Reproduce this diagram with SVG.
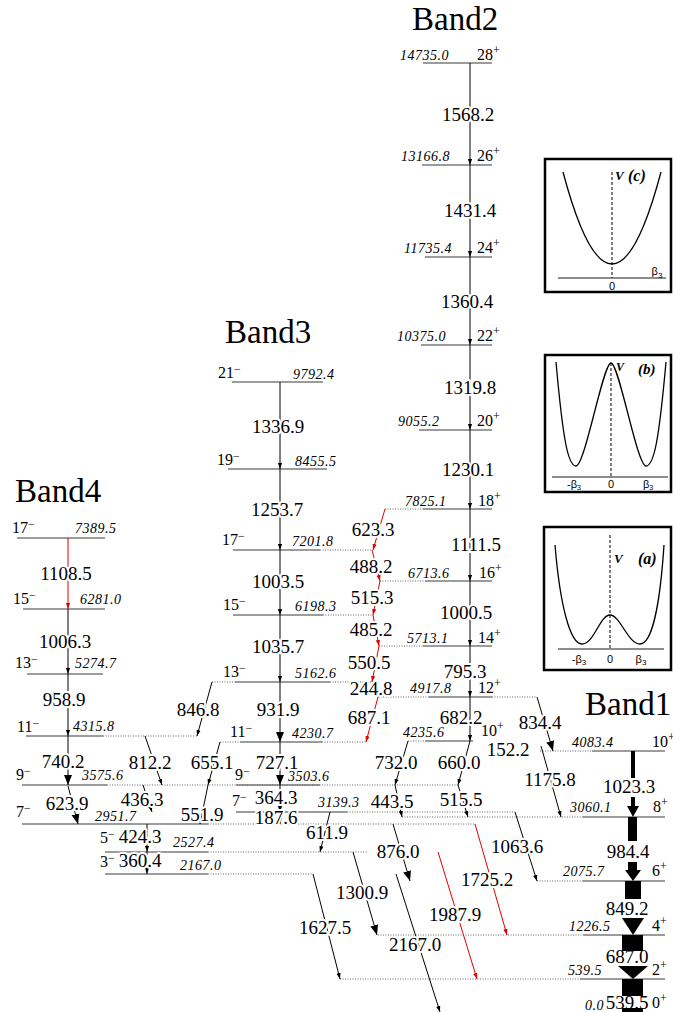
<svg xmlns="http://www.w3.org/2000/svg" width="673" height="1012" viewBox="0 0 673 1012">
<defs>
<style>
text{font-family:"Liberation Serif","Times New Roman",serif;fill:#000}
.band{font-size:33px}
.e{font-size:14px;font-style:italic;letter-spacing:0.5px}
.s{font-size:16px}
.sup{font-size:12px}
.g{font-size:19px;text-anchor:middle;stroke:#fff;stroke-width:4;paint-order:stroke;stroke-linejoin:round}
.g2{font-size:19px;text-anchor:middle}
.lv{stroke:#3a3a3a;stroke-width:1.2;fill:none}
.dt{stroke:#666;stroke-width:1;stroke-dasharray:1 1.5;fill:none}
.tr{stroke:#000;fill:none;stroke-width:1}
.red{stroke:#e00000;fill:none;stroke-width:1}
.blk{fill:#000}
.box{fill:#fff;stroke:#000;stroke-width:2.5}
.ax{stroke:#666;stroke-width:1.4}
.vd{stroke:#000;stroke-width:1;stroke-dasharray:3 2}
.cv{fill:none;stroke:#000;stroke-width:1.3}
.pl{font-family:"Liberation Sans",Arial,sans-serif;font-size:11px;text-anchor:middle;fill:#000}
.vl{font-weight:bold;font-style:italic}
</style>
<marker id="ah" viewBox="0 0 10 10" refX="10" refY="5" markerWidth="6" markerHeight="6" markerUnits="userSpaceOnUse" orient="auto"><path d="M0,1.5L10,5L0,8.5z" fill="#000"/></marker>
<marker id="ahr" viewBox="0 0 10 10" refX="10" refY="5" markerWidth="6" markerHeight="6" markerUnits="userSpaceOnUse" orient="auto"><path d="M0,1.5L10,5L0,8.5z" fill="#e00000"/></marker>
<marker id="ahb" viewBox="0 0 10 10" refX="10" refY="5" markerWidth="10" markerHeight="10" markerUnits="userSpaceOnUse" orient="auto"><path d="M0,1L10,5L0,9z" fill="#000"/></marker>
</defs>
<rect width="673" height="1012" fill="#fff"/>

<!-- band titles -->
<g id="titles">
<text class="band" x="412" y="30">Band2</text>
<text class="band" x="225" y="343">Band3</text>
<text class="band" x="15" y="502">Band4</text>
<text class="band" x="585" y="715">Band1</text>
</g>

<!-- levels: Band2 -->
<g id="b2-28"><line class="lv" x1="423" y1="63" x2="492" y2="63"/><text class="e" x="400" y="60">14735.0</text><text class="s" x="477" y="60">28<tspan class="sup" dy="-6">+</tspan></text></g>
<g id="b2-26"><line class="lv" x1="422" y1="165" x2="492" y2="165"/><text class="e" x="401" y="161">13166.8</text><text class="s" x="477" y="161">26<tspan class="sup" dy="-6">+</tspan></text></g>
<g id="b2-24"><line class="lv" x1="425" y1="257" x2="492" y2="257"/><text class="e" x="404" y="253">11735.4</text><text class="s" x="477" y="253">24<tspan class="sup" dy="-6">+</tspan></text></g>
<g id="b2-22"><line class="lv" x1="421" y1="345" x2="492" y2="345"/><text class="e" x="397" y="341">10375.0</text><text class="s" x="477" y="341">22<tspan class="sup" dy="-6">+</tspan></text></g>
<g id="b2-20"><line class="lv" x1="419" y1="430" x2="492" y2="430"/><text class="e" x="398" y="426">9055.2</text><text class="s" x="477" y="426">20<tspan class="sup" dy="-6">+</tspan></text></g>
<g id="b2-18"><line class="dt" x1="385" y1="509" x2="423" y2="509"/><line class="lv" x1="423" y1="509" x2="492" y2="509"/><text class="e" x="405" y="506">7825.1</text><text class="s" x="478" y="506">18<tspan class="sup" dy="-6">+</tspan></text></g>
<g id="b2-16"><line class="dt" x1="380" y1="581" x2="425" y2="581"/><line class="lv" x1="425" y1="581" x2="492" y2="581"/><text class="e" x="408" y="578">6713.6</text><text class="s" x="479" y="578">16<tspan class="sup" dy="-6">+</tspan></text></g>
<g id="b2-14"><line class="dt" x1="379" y1="646" x2="423" y2="646"/><line class="lv" x1="423" y1="646" x2="492" y2="646"/><text class="e" x="407" y="643">5713.1</text><text class="s" x="478" y="643">14<tspan class="sup" dy="-6">+</tspan></text></g>
<g id="b2-12"><line class="dt" x1="378" y1="697" x2="429" y2="697"/><line class="lv" x1="429" y1="697" x2="492" y2="697"/><line class="dt" x1="492" y1="697" x2="537" y2="697"/><text class="e" x="410" y="693">4917.8</text><text class="s" x="478" y="693">12<tspan class="sup" dy="-6">+</tspan></text></g>
<g id="b2-10"><line class="dt" x1="408" y1="741" x2="425" y2="741"/><line class="lv" x1="425" y1="741" x2="473" y2="741"/><text class="e" x="403" y="737">4235.6</text><text class="s" x="481" y="736">10<tspan class="sup" dy="-6">+</tspan></text></g>

<!-- levels: Band3 -->
<g id="b3-21"><line class="lv" x1="232" y1="382" x2="323" y2="382"/><text class="s" x="218" y="378">21<tspan class="sup" dy="-5">−</tspan></text><text class="e" x="293" y="379">9792.4</text></g>
<g id="b3-19"><line class="lv" x1="228" y1="469" x2="327" y2="469"/><text class="s" x="217" y="465">19<tspan class="sup" dy="-5">−</tspan></text><text class="e" x="295" y="466">8455.5</text></g>
<g id="b3-17"><line class="lv" x1="233" y1="550" x2="320" y2="550"/><line class="dt" x1="320" y1="550" x2="372" y2="550"/><text class="s" x="222" y="545">17<tspan class="sup" dy="-5">−</tspan></text><text class="e" x="292" y="546">7201.8</text></g>
<g id="b3-15"><line class="lv" x1="233" y1="615" x2="323" y2="615"/><line class="dt" x1="323" y1="615" x2="373" y2="615"/><text class="s" x="223" y="610">15<tspan class="sup" dy="-5">−</tspan></text><text class="e" x="295" y="611">6198.3</text></g>
<g id="b3-13"><line class="dt" x1="212" y1="682" x2="235" y2="682"/><line class="lv" x1="235" y1="682" x2="330" y2="682"/><line class="dt" x1="330" y1="682" x2="372" y2="682"/><text class="s" x="223" y="677">13<tspan class="sup" dy="-5">−</tspan></text><text class="e" x="295" y="678">5162.6</text></g>
<g id="b3-11"><line class="dt" x1="220" y1="742" x2="240" y2="742"/><line class="lv" x1="240" y1="742" x2="322" y2="742"/><line class="dt" x1="322" y1="742" x2="366" y2="742"/><text class="s" x="230" y="737">11<tspan class="sup" dy="-5">−</tspan></text><text class="e" x="292" y="738">4230.7</text></g>
<g id="b3-9"><line class="lv" x1="236" y1="785" x2="320" y2="785"/><text class="s" x="235" y="780">9<tspan class="sup" dy="-5">−</tspan></text><text class="e" x="288" y="781">3503.6</text></g>
<g id="b3-7"><line class="lv" x1="236" y1="812" x2="347" y2="812"/><line class="dt" x1="347" y1="812" x2="515" y2="812"/><text class="s" x="232" y="806">7<tspan class="sup" dy="-5">−</tspan></text><text class="e" x="318" y="807">3139.3</text></g>

<!-- levels: Band4 -->
<g id="b4-17"><line class="lv" x1="17" y1="538" x2="105" y2="538"/><text class="s" x="12" y="533">17<tspan class="sup" dy="-5">−</tspan></text><text class="e" x="75" y="533">7389.5</text></g>
<g id="b4-15"><line class="lv" x1="23" y1="609" x2="105" y2="609"/><text class="s" x="13" y="604">15<tspan class="sup" dy="-5">−</tspan></text><text class="e" x="80" y="604">6281.0</text></g>
<g id="b4-13"><line class="lv" x1="27" y1="674" x2="103" y2="674"/><text class="s" x="15" y="668">13<tspan class="sup" dy="-5">−</tspan></text><text class="e" x="75" y="668">5274.7</text></g>
<g id="b4-11"><line class="lv" x1="26" y1="736" x2="103" y2="736"/><line class="dt" x1="103" y1="736" x2="197" y2="736"/><text class="s" x="17" y="732">11<tspan class="sup" dy="-5">−</tspan></text><text class="e" x="73" y="731">4315.8</text></g>
<g id="b4-9"><line class="lv" x1="22" y1="785" x2="107" y2="785"/><line class="dt" x1="107" y1="785" x2="458" y2="785"/><text class="s" x="16" y="780">9<tspan class="sup" dy="-5">−</tspan></text><text class="e" x="82" y="780">3575.6</text></g>
<g id="b4-7"><line class="lv" x1="22" y1="824" x2="208" y2="824"/><line class="dt" x1="208" y1="824" x2="475" y2="824"/><text class="s" x="16" y="817">7<tspan class="sup" dy="-5">−</tspan></text><text class="e" x="95" y="821">2951.7</text></g>
<g id="lv-5"><line class="lv" x1="105" y1="852" x2="208" y2="852"/><line class="dt" x1="208" y1="852" x2="368" y2="852"/><text class="s" x="100" y="843">5<tspan class="sup" dy="-5">−</tspan></text><text class="e" x="173" y="847">2527.4</text></g>
<g id="lv-3"><line class="lv" x1="105" y1="874" x2="208" y2="874"/><line class="dt" x1="208" y1="874" x2="313" y2="874"/><text class="s" x="100" y="867">3<tspan class="sup" dy="-5">−</tspan></text><text class="e" x="180" y="870">2167.0</text></g>

<!-- levels: Band1 -->
<g id="b1-10"><line class="dt" x1="540" y1="751" x2="592" y2="751"/><line class="lv" x1="592" y1="751" x2="665" y2="751"/><text class="e" x="572" y="747">4083.4</text><text class="s" x="652" y="747">10<tspan class="sup" dy="-6">+</tspan></text></g>
<g id="b1-8"><line class="dt" x1="402" y1="817" x2="583" y2="817"/><line class="lv" x1="583" y1="817" x2="665" y2="817"/><text class="e" x="570" y="812">3060.1</text><text class="s" x="653" y="812">8<tspan class="sup" dy="-6">+</tspan></text></g>
<g id="b1-6"><line class="dt" x1="537" y1="881" x2="583" y2="881"/><line class="lv" x1="583" y1="881" x2="665" y2="881"/><text class="e" x="563" y="876">2075.7</text><text class="s" x="652" y="876">6<tspan class="sup" dy="-6">+</tspan></text></g>
<g id="b1-4"><line class="dt" x1="378" y1="935" x2="583" y2="935"/><line class="lv" x1="583" y1="935" x2="665" y2="935"/><text class="e" x="569" y="931">1226.5</text><text class="s" x="652" y="931">4<tspan class="sup" dy="-6">+</tspan></text></g>
<g id="b1-2"><line class="dt" x1="340" y1="979" x2="580" y2="979"/><line class="lv" x1="580" y1="979" x2="665" y2="979"/><text class="e" x="568" y="975">539.5</text><text class="s" x="652" y="975">2<tspan class="sup" dy="-6">+</tspan></text></g>
<g id="b1-0"><text class="e" x="585" y="1010">0.0</text><text class="s" x="652" y="1008">0<tspan class="sup" dy="-6">+</tspan></text></g>

<!-- gamma transitions -->
<g id="connectors">
<!-- Band2 -->
<line class="tr" x1="470" y1="63" x2="470" y2="165" marker-end="url(#ah)"/>
<line class="tr" x1="470" y1="165" x2="470" y2="257" marker-end="url(#ah)"/>
<line class="tr" x1="470" y1="257" x2="470" y2="345" marker-end="url(#ah)"/>
<line class="tr" x1="470" y1="345" x2="470" y2="430" marker-end="url(#ah)"/>
<line class="tr" x1="470" y1="430" x2="470" y2="509" marker-end="url(#ah)"/>
<line class="tr" x1="470" y1="509" x2="470" y2="581" stroke-width="1.3" marker-end="url(#ah)"/>
<line class="tr" x1="470" y1="581" x2="470" y2="646" stroke-width="2" marker-end="url(#ah)"/>
<line class="tr" x1="470" y1="646" x2="470" y2="697" stroke-width="2" marker-end="url(#ah)"/>
<line class="tr" x1="470" y1="697" x2="470" y2="741" stroke-width="1.5" marker-end="url(#ah)"/>
<!-- Band3 -->
<line class="tr" x1="280" y1="382" x2="280" y2="469" stroke="#555" marker-end="url(#ah)"/>
<line class="tr" x1="280" y1="469" x2="280" y2="550" stroke="#555" marker-end="url(#ah)"/>
<line class="tr" x1="280" y1="550" x2="280" y2="615" stroke-width="2" marker-end="url(#ah)"/>
<line class="tr" x1="280" y1="615" x2="280" y2="682" stroke-width="2" marker-end="url(#ah)"/>
<line class="tr" x1="280" y1="682" x2="280" y2="742" stroke-width="3" marker-end="url(#ahb)"/>
<line class="tr" x1="280" y1="742" x2="280" y2="785" stroke-width="3" marker-end="url(#ahb)"/>
<line class="tr" x1="280" y1="785" x2="280" y2="812" marker-end="url(#ah)"/>
<line class="tr" x1="280" y1="812" x2="280" y2="824" marker-end="url(#ah)"/>
<!-- Band4 -->
<line class="red" x1="68" y1="538" x2="68" y2="609" stroke-width="1.2" marker-end="url(#ahr)"/>
<line class="tr" x1="68" y1="609" x2="68" y2="674" stroke-width="1.5" marker-end="url(#ah)"/>
<line class="tr" x1="68" y1="674" x2="68" y2="736" stroke-width="1.8" marker-end="url(#ah)"/>
<line class="tr" x1="68" y1="736" x2="68" y2="785" stroke-width="3" marker-end="url(#ahb)"/>
<line class="tr" x1="68" y1="786" x2="78" y2="824" stroke-width="3" marker-end="url(#ahb)"/>
<!-- Band2 to Band3 -->
<line class="red" x1="385" y1="509" x2="373" y2="550" marker-end="url(#ahr)"/>
<line class="red" x1="372" y1="550" x2="380" y2="581" marker-end="url(#ahr)"/>
<line class="red" x1="380" y1="581" x2="373" y2="615" marker-end="url(#ahr)"/>
<line class="red" x1="373" y1="615" x2="379" y2="646" marker-end="url(#ahr)"/>
<line class="red" x1="379" y1="646" x2="372" y2="682" marker-end="url(#ahr)"/>
<line class="red" x1="378" y1="697" x2="366" y2="742" marker-end="url(#ahr)"/>
<!-- inter-band links -->
<line class="tr" x1="212" y1="682" x2="197" y2="736" marker-end="url(#ah)"/>
<line class="tr" x1="145" y1="736" x2="162" y2="785" marker-end="url(#ah)"/>
<line class="tr" x1="220" y1="742" x2="208" y2="785" marker-end="url(#ah)"/>
<line class="tr" x1="143" y1="785" x2="152" y2="812" marker-end="url(#ah)"/>
<line class="tr" x1="208" y1="785" x2="200" y2="824" marker-end="url(#ah)"/>
<line class="tr" x1="537" y1="697" x2="553" y2="751" stroke-width="2.5" marker-end="url(#ahb)"/>
<line class="tr" x1="541" y1="746" x2="561" y2="817" marker-end="url(#ah)"/>
<line class="tr" x1="408" y1="741" x2="395" y2="785" marker-end="url(#ah)"/>
<line class="tr" x1="470" y1="741" x2="458" y2="785" marker-end="url(#ah)"/>
<line class="tr" x1="395" y1="785" x2="402" y2="817" marker-end="url(#ah)"/>
<line class="tr" x1="458" y1="785" x2="468" y2="817" marker-end="url(#ah)"/>
<line class="tr" x1="330" y1="812" x2="320" y2="852" marker-end="url(#ah)"/>
<line class="tr" x1="515" y1="812" x2="537" y2="881" marker-end="url(#ah)"/>
<line class="tr" x1="393" y1="824" x2="410" y2="881" stroke-width="4" marker-end="url(#ahb)"/>
<line class="red" x1="475" y1="824" x2="507" y2="935" marker-end="url(#ahr)"/>
<line class="tr" x1="353" y1="852" x2="377" y2="935" stroke-width="3" marker-end="url(#ahb)"/>
<line class="red" x1="438" y1="852" x2="477" y2="979" marker-end="url(#ahr)"/>
<line class="tr" x1="313" y1="874" x2="340" y2="979" marker-end="url(#ah)"/>
<line class="tr" x1="396" y1="874" x2="440" y2="1012" marker-end="url(#ah)"/>
<line class="tr" x1="147" y1="824" x2="147" y2="852" marker-end="url(#ah)"/>
<line class="tr" x1="147" y1="852" x2="147" y2="874" marker-end="url(#ah)"/>
<!-- Band1 intensity arrows -->
<rect class="blk" x="631" y="751" width="4" height="27"/>
<rect class="blk" x="631" y="797" width="4" height="11"/>
<polygon class="blk" points="627,806 639,806 633,817"/>
<rect class="blk" x="628" y="817" width="9" height="24"/>
<rect class="blk" x="628" y="862" width="9" height="10"/>
<polygon class="blk" points="625,870 641,870 633,881"/>
<rect class="blk" x="625" y="881" width="16" height="18"/>
<polygon class="blk" points="622,918 644,918 633,935"/>
<rect class="blk" x="622" y="935" width="21" height="16"/>
<polygon class="blk" points="618,966 648,966 633,979"/>
<rect class="blk" x="622" y="979" width="21" height="17"/>
<rect class="blk" x="622" y="1008" width="21" height="4"/>
</g>

<!-- transition energies -->
<g id="gamma-labels">
<text class="g" x="468" y="121">1568.2</text>
<text class="g" x="470" y="217">1431.4</text>
<text class="g" x="467" y="308">1360.4</text>
<text class="g" x="470" y="394">1319.8</text>
<text class="g" x="468" y="476">1230.1</text>
<text class="g" x="476" y="551">1111.5</text>
<text class="g" x="466" y="619">1000.5</text>
<text class="g" x="465" y="678">795.3</text>
<text class="g" x="461" y="724">682.2</text>
<text class="g" x="278" y="433">1336.9</text>
<text class="g" x="277" y="516">1253.7</text>
<text class="g" x="278" y="588">1003.5</text>
<text class="g" x="278" y="653">1035.7</text>
<text class="g" x="278" y="716">931.9</text>
<text class="g" x="277" y="769">727.1</text>
<text class="g" x="276" y="804">364.3</text>
<text class="g" x="276" y="824">187.6</text>
<text class="g" x="373" y="536">623.3</text>
<text class="g" x="371" y="573">488.2</text>
<text class="g" x="372" y="604">515.3</text>
<text class="g" x="371" y="636">485.2</text>
<text class="g" x="369" y="669">550.5</text>
<text class="g" x="371" y="695">244.8</text>
<text class="g" x="369" y="724">687.1</text>
<text class="g" x="66" y="580">1108.5</text>
<text class="g" x="65" y="648">1006.3</text>
<text class="g" x="64" y="706">958.9</text>
<text class="g" x="63" y="768">740.2</text>
<text class="g" x="67" y="810">623.9</text>
<text class="g" x="198" y="716">846.8</text>
<text class="g" x="150" y="769">812.2</text>
<text class="g" x="212" y="769">655.1</text>
<text class="g" x="142" y="806">436.3</text>
<text class="g" x="202" y="821">551.9</text>
<text class="g" x="140" y="843">424.3</text>
<text class="g" x="140" y="867">360.4</text>
<text class="g" x="392" y="808">443.5</text>
<text class="g" x="461" y="806">515.5</text>
<text class="g" x="396" y="769">732.0</text>
<text class="g" x="459" y="769">660.0</text>
<text class="g" x="508" y="756">152.2</text>
<text class="g" x="540" y="729">834.4</text>
<text class="g" x="550" y="786">1175.8</text>
<text class="g" x="517" y="853">1063.6</text>
<text class="g" x="327" y="839">611.9</text>
<text class="g" x="398" y="858">876.0</text>
<text class="g" x="487" y="886">1725.2</text>
<text class="g" x="362" y="899">1300.9</text>
<text class="g" x="455" y="921">1987.9</text>
<text class="g" x="325" y="934">1627.5</text>
<text class="g" x="415" y="951">2167.0</text>
<text class="g2" x="629" y="793">1023.3</text>
<text class="g2" x="628" y="858">984.4</text>
<text class="g2" x="627" y="915">849.2</text>
<text class="g2" x="627" y="963">687.0</text>
<text class="g2" x="627" y="1009">539.5</text>
</g>

<!-- potential sketches -->
<g id="inset-c">
<rect class="box" x="545" y="159" width="126" height="133"/>
<line class="ax" x1="558" y1="278" x2="666" y2="278"/>
<line class="vd" x1="612" y1="172" x2="612" y2="278"/>
<path class="cv" d="M563,172 Q612,356 661,172"/>
<text class="vl" x="615" y="180" font-size="13">V</text>
<text class="vl" x="628" y="181" font-size="16">(c)</text>
<text class="pl" x="657" y="275">β<tspan font-size="8" dy="3">3</tspan></text>
<text class="pl" x="612" y="290" font-size="10">0</text>
</g>
<g id="inset-b">
<rect class="box" x="545" y="355" width="126" height="137"/>
<line class="ax" x1="552" y1="477" x2="668" y2="477"/>
<line class="vd" x1="611" y1="363" x2="611" y2="477"/>
<path class="cv" d="M556,362 C563,440 568,466 576,466 C585,466 603,363 611,363 C619,363 637,466 646,466 C654,466 659,440 666,362"/>
<text class="vl" x="616" y="371" font-size="12">V</text>
<text class="vl" x="638" y="374" font-size="15">(b)</text>
<text class="pl" x="574" y="488" font-size="10">-β<tspan font-size="7" dy="2">3</tspan></text>
<text class="pl" x="611" y="488" font-size="10">0</text>
<text class="pl" x="648" y="488" font-size="10">β<tspan font-size="7" dy="2">3</tspan></text>
</g>
<g id="inset-a">
<rect class="box" x="544" y="527" width="127" height="143"/>
<line class="ax" x1="558" y1="649" x2="664" y2="649"/>
<line class="vd" x1="610" y1="535" x2="610" y2="649"/>
<path class="cv" d="M555,545 C560,605 570,644 582,644 C594,644 600,615 610,615 C620,615 628,644 640,644 C652,644 660,605 664,545"/>
<text class="vl" x="614" y="563" font-size="13">V</text>
<text class="vl" x="638" y="564" font-size="16">(a)</text>
<text class="pl" x="579" y="663" font-size="11">-β<tspan font-size="8" dy="2">3</tspan></text>
<text class="pl" x="610" y="663" font-size="11">0</text>
<text class="pl" x="641" y="663" font-size="11">β<tspan font-size="8" dy="2">3</tspan></text>
</g>
</svg>
